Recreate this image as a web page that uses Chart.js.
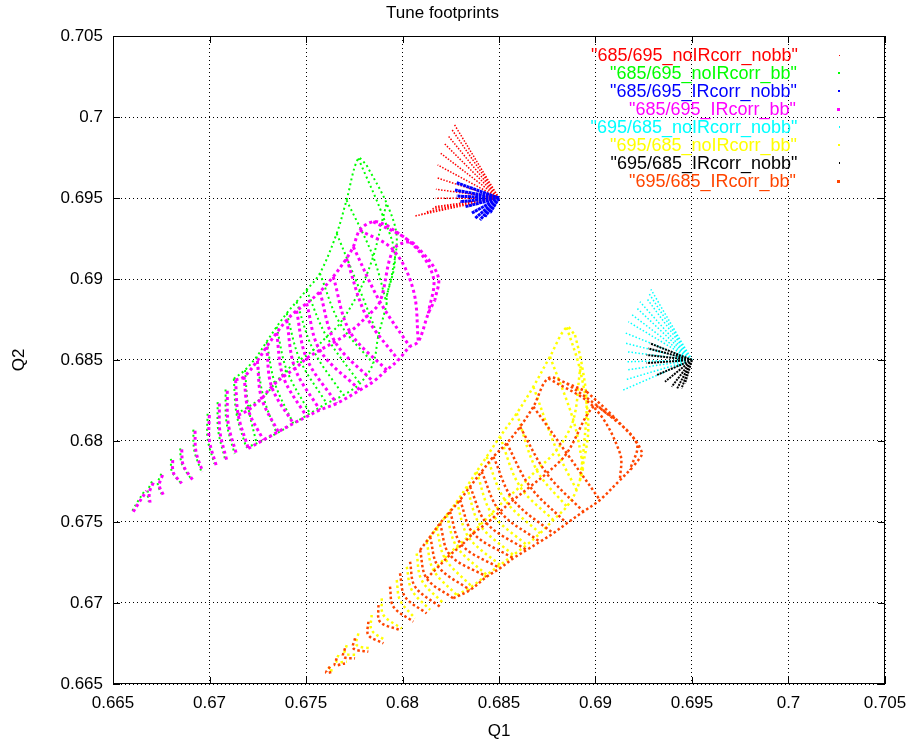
<!DOCTYPE html>
<html>
<head>
<meta charset="utf-8">
<script src="https://cdn.jsdelivr.net/npm/chart.js@4/dist/chart.umd.min.js"></script>
<style>
  body { margin: 0; background: #fff; }
  #wrap { position: relative; width: 916px; height: 744px; }
  #legend { position: absolute; right: 71px; top: 46px; font: 18px "Liberation Sans", Arial, sans-serif; }
  #legend div { display: flex; justify-content: flex-end; align-items: center; height: 18px; white-space: pre; }
  #legend i { display: inline-block; margin-left: 41px; margin-right: 5px; }
</style>
</head>
<body>
<div id="wrap">
  <canvas id="chart" width="916" height="744"></canvas>
  <div id="legend"></div>
</div>
<script>
// tick labels
const xTicks = [0.665, 0.67, 0.675, 0.68, 0.685, 0.69, 0.695, 0.7, 0.705];
const yTicks = [0.665, 0.67, 0.675, 0.68, 0.685, 0.69, 0.695, 0.7, 0.705];

const seriesNames = [
  '"685/695_noIRcorr_nobb"', '"685/695_noIRcorr_bb"', '"685/695_IRcorr_nobb"', '"685/695_IRcorr_bb"',
  '"695/685_noIRcorr_nobb"', '"695/685_noIRcorr_bb"', '"695/685_IRcorr_nobb"', '"695/685_IRcorr_bb"'
];
const seriesColors = ['#ff0000', '#00ff00', '#0000ff', '#ff00ff', '#00ffff', '#ffff00', '#000000', '#ff4500'];

// nominal working points (no beam-beam footprints start here)
const nominal685 = [0.685, 0.695];
const nominal695 = [0.695, 0.685];

// no-bb footprints: tip of each amplitude ray (Q1, Q2)
const redTips = [
  [0.68267, 0.69957], [0.68255, 0.69924], [0.68237, 0.69883], [0.68215, 0.69838],
  [0.68198, 0.69776], [0.68182, 0.69704], [0.68177, 0.69625], [0.68173, 0.69554],
  [0.68172, 0.69498], [0.68168, 0.69446], [0.68148, 0.69432], [0.68125, 0.69415],
  [0.68091, 0.69398], [0.68065, 0.69389]
];
const blueTips = [
  [0.68281, 0.69594], [0.68272, 0.69549], [0.68281, 0.69512], [0.68298, 0.69477],
  [0.68324, 0.69446], [0.68358, 0.69406], [0.68376, 0.69375], [0.68401, 0.69364],
  [0.68427, 0.69385], [0.68453, 0.69406]
];
const cyanTips = [
  [0.69287, 0.68936], [0.69279, 0.68907], [0.69265, 0.68881], [0.69230, 0.68860],
  [0.69210, 0.68825], [0.69184, 0.68784], [0.69170, 0.68736], [0.69153, 0.68668],
  [0.69158, 0.68603], [0.69162, 0.68551], [0.69158, 0.68489], [0.69162, 0.68438],
  [0.69153, 0.68377], [0.69144, 0.68315]
];
const blackTips = [
  [0.69282, 0.68603], [0.69273, 0.68572], [0.69265, 0.68531], [0.69265, 0.68481],
  [0.69317, 0.68407], [0.69360, 0.68366], [0.69395, 0.68335], [0.69421, 0.68319],
  [0.69446, 0.68325], [0.69464, 0.68356]
];

// bb footprints: constant-amplitude arcs, each a short list of (Q1, Q2)
const greenArcs = [
  [[0.66600, 0.67570], [0.66625, 0.67620], [0.66668, 0.67700]],
  [[0.66702, 0.67750], [0.66680, 0.67688], [0.66685, 0.67625]],
  [[0.66750, 0.67798], [0.66732, 0.67735], [0.66752, 0.67672]],
  [[0.66800, 0.67890], [0.66805, 0.67812], [0.66848, 0.67745]],
  [[0.66848, 0.67955], [0.66856, 0.67860], [0.66905, 0.67765]],
  [[0.66916, 0.68070], [0.66921, 0.67942], [0.66956, 0.67818]],
  [[0.66990, 0.68168], [0.66990, 0.68015], [0.67025, 0.67860]],
  [[0.67042, 0.68240], [0.67045, 0.68066], [0.67080, 0.67890]],
  [[0.67083, 0.68318], [0.67088, 0.68117], [0.67130, 0.67920]],
  [[0.67126, 0.68384], [0.67140, 0.68168], [0.67190, 0.67960]],
  [[0.67184, 0.68438], [0.67201, 0.68211], [0.67244, 0.67985]],
  [[0.67244, 0.68520], [0.67279, 0.68273], [0.67348, 0.68047]],
  [[0.67296, 0.68613], [0.67339, 0.68355], [0.67434, 0.68108]],
  [[0.67348, 0.68705], [0.67400, 0.68438], [0.67520, 0.68170]],
  [[0.67400, 0.68788], [0.67469, 0.68500], [0.67607, 0.68232]],
  [[0.67451, 0.68860], [0.67538, 0.68561], [0.67693, 0.68283]],
  [[0.67503, 0.68932], [0.67607, 0.68644], [0.67779, 0.68355]],
  [[0.67572, 0.69035], [0.67676, 0.68726], [0.67848, 0.68479]],
  [[0.67659, 0.69281], [0.67779, 0.68932], [0.67874, 0.68644]],
  [[0.67710, 0.69487], [0.67848, 0.69138], [0.67918, 0.68849]],
  [[0.67771, 0.69745], [0.67900, 0.69384], [0.67961, 0.69138], [0.67918, 0.68891]],
  [[0.67814, 0.69703], [0.67918, 0.69467], [0.67970, 0.69261], [0.67944, 0.69014]]
];
const magentaArcs = [
  [[0.66605, 0.67563], [0.66631, 0.67613], [0.66674, 0.67693]],
  [[0.66709, 0.67742], [0.66688, 0.67680], [0.66692, 0.67619]],
  [[0.66757, 0.67790], [0.66740, 0.67728], [0.66761, 0.67666]],
  [[0.66809, 0.67882], [0.66813, 0.67804], [0.66856, 0.67738]],
  [[0.66856, 0.67948], [0.66864, 0.67851], [0.66913, 0.67759]],
  [[0.66925, 0.68063], [0.66930, 0.67934], [0.66965, 0.67810]],
  [[0.66999, 0.68160], [0.66999, 0.68006], [0.67034, 0.67851]],
  [[0.67051, 0.68232], [0.67054, 0.68057], [0.67089, 0.67882]],
  [[0.67092, 0.68310], [0.67097, 0.68108], [0.67141, 0.67913]],
  [[0.67135, 0.68376], [0.67149, 0.68160], [0.67201, 0.67954]],
  [[0.67179, 0.68397], [0.67201, 0.68191], [0.67279, 0.68006]],
  [[0.67248, 0.68495], [0.67270, 0.68263], [0.67356, 0.68057]],
  [[0.67296, 0.68582], [0.67322, 0.68335], [0.67434, 0.68108]],
  [[0.67348, 0.68668], [0.67382, 0.68397], [0.67503, 0.68150]],
  [[0.67400, 0.68746], [0.67443, 0.68448], [0.67572, 0.68191]],
  [[0.67451, 0.68804], [0.67503, 0.68510], [0.67659, 0.68232]],
  [[0.67503, 0.68849], [0.67572, 0.68561], [0.67779, 0.68314]],
  [[0.67572, 0.68921], [0.67650, 0.68613], [0.67848, 0.68366]],
  [[0.67641, 0.69014], [0.67728, 0.68674], [0.67918, 0.68438]],
  [[0.67710, 0.69127], [0.67814, 0.68767], [0.67978, 0.68500]],
  [[0.67745, 0.69199], [0.67883, 0.68860], [0.68038, 0.68582]],
  [[0.67779, 0.69302], [0.67952, 0.69179], [0.68056, 0.68932], [0.68082, 0.68613]],
  [[0.67848, 0.69354], [0.68038, 0.69230], [0.68159, 0.69014], [0.68134, 0.68788]],
  [[0.67918, 0.69333], [0.68090, 0.69179], [0.68185, 0.69014], [0.68168, 0.68870]]
];
const yellowArcs = [
  [[0.67624, 0.66607], [0.67616, 0.66586], [0.67650, 0.66586]],
  [[0.67668, 0.66679], [0.67659, 0.66638], [0.67711, 0.66638]],
  [[0.67711, 0.66740], [0.67702, 0.66689], [0.67763, 0.66679]],
  [[0.67771, 0.66812], [0.67763, 0.66740], [0.67840, 0.66720]],
  [[0.67840, 0.66926], [0.67840, 0.66833], [0.67909, 0.66771]],
  [[0.67892, 0.67029], [0.67901, 0.66926], [0.67996, 0.66843]],
  [[0.67970, 0.67142], [0.67987, 0.67018], [0.68065, 0.66905]],
  [[0.68022, 0.67224], [0.68048, 0.67080], [0.68143, 0.66957]],
  [[0.68073, 0.67306], [0.68099, 0.67142], [0.68212, 0.66998]],
  [[0.68125, 0.67378], [0.68160, 0.67204], [0.68281, 0.67049]],
  [[0.68177, 0.67461], [0.68220, 0.67276], [0.68359, 0.67101]],
  [[0.68229, 0.67543], [0.68281, 0.67348], [0.68436, 0.67173]],
  [[0.68281, 0.67625], [0.68341, 0.67409], [0.68505, 0.67234]],
  [[0.68333, 0.67718], [0.68402, 0.67481], [0.68574, 0.67296]],
  [[0.68384, 0.67811], [0.68462, 0.67553], [0.68643, 0.67358]],
  [[0.68436, 0.67903], [0.68531, 0.67636], [0.68712, 0.67430]],
  [[0.68505, 0.68027], [0.68609, 0.67718], [0.68781, 0.67512]],
  [[0.68592, 0.68171], [0.68695, 0.67821], [0.68851, 0.67595]],
  [[0.68678, 0.68335], [0.68799, 0.67944], [0.68902, 0.67697]],
  [[0.68764, 0.68521], [0.68885, 0.68130], [0.68937, 0.67841]],
  [[0.68851, 0.68702], [0.68920, 0.68438], [0.68963, 0.68088], [0.68920, 0.67759]],
  [[0.68894, 0.68654], [0.68928, 0.68479], [0.68954, 0.68233], [0.68937, 0.67924]]
];
const orangeArcs = [
  [[0.67624, 0.66607], [0.67604, 0.66570], [0.67642, 0.66576]],
  [[0.67659, 0.66658], [0.67650, 0.66617], [0.67702, 0.66627]],
  [[0.67702, 0.66720], [0.67693, 0.66668], [0.67754, 0.66658]],
  [[0.67754, 0.66782], [0.67745, 0.66720], [0.67823, 0.66699]],
  [[0.67823, 0.66885], [0.67823, 0.66802], [0.67901, 0.66751]],
  [[0.67875, 0.66987], [0.67883, 0.66885], [0.67987, 0.66833]],
  [[0.67935, 0.67101], [0.67953, 0.66977], [0.68056, 0.66885]],
  [[0.67987, 0.67183], [0.68013, 0.67039], [0.68125, 0.66936]],
  [[0.68039, 0.67255], [0.68065, 0.67101], [0.68194, 0.66977]],
  [[0.68091, 0.67327], [0.68125, 0.67152], [0.68263, 0.67029]],
  [[0.68143, 0.67409], [0.68186, 0.67224], [0.68350, 0.67080]],
  [[0.68194, 0.67492], [0.68246, 0.67296], [0.68436, 0.67162]],
  [[0.68246, 0.67564], [0.68307, 0.67358], [0.68505, 0.67214]],
  [[0.68298, 0.67636], [0.68367, 0.67430], [0.68574, 0.67276]],
  [[0.68350, 0.67718], [0.68436, 0.67492], [0.68643, 0.67327]],
  [[0.68410, 0.67811], [0.68505, 0.67564], [0.68712, 0.67378]],
  [[0.68471, 0.67903], [0.68574, 0.67636], [0.68781, 0.67430]],
  [[0.68540, 0.67986], [0.68661, 0.67718], [0.68851, 0.67492]],
  [[0.68609, 0.68088], [0.68747, 0.67800], [0.68937, 0.67564]],
  [[0.68678, 0.68212], [0.68851, 0.67924], [0.69023, 0.67636]],
  [[0.68756, 0.68387], [0.68989, 0.68212], [0.69127, 0.67924], [0.69127, 0.67759]],
  [[0.68851, 0.68356], [0.69058, 0.68171], [0.69213, 0.67986], [0.69179, 0.67821]],
  [[0.68954, 0.68305], [0.69110, 0.68130], [0.69239, 0.67934], [0.69196, 0.67841]]
];
// the dot lattice only shows between arcs from this arc outwards
const latticeFrom = 9;

const gap = { x: null, y: null };
function rays(apex, tips) {
  const pts = [];
  tips.forEach(t => pts.push({ x: apex[0], y: apex[1] }, { x: t[0], y: t[1] }, gap));
  return pts;
}
// arcs, plus the lines joining the same vertex of successive outer arcs (grid look)
function arcs(list) {
  const pts = [];
  list.forEach(a => { a.forEach(p => pts.push({ x: p[0], y: p[1] })); pts.push(gap); });
  const outer = list.slice(latticeFrom);
  [0, 1, 2].forEach(k => {
    outer.forEach(a => { const p = k === 2 ? a[a.length - 1] : a[k]; pts.push({ x: p[0], y: p[1] }); });
    pts.push(gap);
  });
  return pts;
}

const seriesData = [
  rays(nominal685, redTips), arcs(greenArcs), rays(nominal685, blueTips), arcs(magentaArcs),
  rays(nominal695, cyanTips), arcs(yellowArcs), rays(nominal695, blackTips), arcs(orangeArcs)
];
const widths = [1.5, 2, 3, 3, 1.5, 2.5, 2, 2.5];
const dashes = [[1.5, 1.5], [2, 3], [3, 0.5], [3, 3], [1.5, 2], [2.5, 3], [2, 1], [2.5, 2.5]];
const curved = [0, 0.35, 0, 0.35, 0, 0.35, 0, 0.35];

const datasets = seriesNames.map((name, i) => ({
  label: name,
  data: seriesData[i],
  showLine: true,
  spanGaps: false,
  tension: curved[i],
  borderColor: seriesColors[i],
  borderWidth: widths[i],
  borderDash: dashes[i],
  pointRadius: 0,
  order: seriesNames.length - i   // later series drawn on top, like gnuplot
}));

// legend in gnuplot style (right aligned, coloured text, sample dot)
const dotSize = [1, 2, 2, 3, 1.5, 2, 1.5, 3];
document.getElementById('legend').innerHTML = seriesNames.map((n, i) =>
  `<div style="color:${seriesColors[i]}"><span>${n}</span><i style="width:${dotSize[i]}px;height:${dotSize[i]}px;background:${seriesColors[i]}"></i></div>`
).join('');

const framePlugin = {
  id: 'frame',
  afterDatasetsDraw(chart) {
    const { ctx, chartArea: a, scales: { x, y } } = chart;
    ctx.save();
    ctx.strokeStyle = '#000';
    ctx.lineWidth = 1;
    ctx.strokeRect(a.left + 0.5, a.top + 0.5, a.width - 1, a.height - 1);
    ctx.beginPath();
    xTicks.forEach(v => {
      const px = Math.round(x.getPixelForValue(v)) + 0.5;
      ctx.moveTo(px, a.bottom); ctx.lineTo(px, a.bottom - 7);
      ctx.moveTo(px, a.top); ctx.lineTo(px, a.top + 7);
    });
    yTicks.forEach(v => {
      const py = Math.round(y.getPixelForValue(v)) + 0.5;
      ctx.moveTo(a.left, py); ctx.lineTo(a.left + 7, py);
      ctx.moveTo(a.right, py); ctx.lineTo(a.right - 7, py);
    });
    ctx.stroke();
    ctx.restore();
  }
};

Chart.defaults.font.family = '"Liberation Sans", Arial, sans-serif';
Chart.defaults.font.size = 17;
Chart.defaults.color = '#000';

const fmt = v => String(Number(v.toFixed(3)));

new Chart(document.getElementById('chart'), {
  type: 'scatter',
  data: { datasets },
  options: {
    responsive: false,
    animation: false,
    layout: { padding: { left: 0, right: 31, top: 0, bottom: 0 } },
    plugins: {
      legend: { display: false },
      tooltip: { enabled: false },
      title: {
        display: true,
        text: 'Tune footprints',
        font: { size: 17, weight: 'normal' },
        color: '#000',
        padding: { top: 3, bottom: 12.6 }
      }
    },
    scales: {
      x: {
        type: 'linear', min: 0.665, max: 0.705,
        afterBuildTicks: s => { s.ticks = xTicks.map(v => ({ value: v })); },
        afterFit: s => { s.height = 60; },
        ticks: { callback: fmt, padding: 9, maxRotation: 0 },
        grid: { color: '#000', lineWidth: 1, drawTicks: false },
        border: { display: false, dash: [1, 3] },
        title: { display: true, text: 'Q1', font: { size: 17 }, padding: { top: 0, bottom: 2 } }
      },
      y: {
        type: 'linear', min: 0.665, max: 0.705,
        afterBuildTicks: s => { s.ticks = yTicks.map(v => ({ value: v })); },
        afterFit: s => { s.width = 113; },
        ticks: { callback: fmt, padding: 10 },
        grid: { color: '#000', lineWidth: 1, drawTicks: false },
        border: { display: false, dash: [1, 3] },
        title: { display: true, text: 'Q2', font: { size: 17 }, padding: { top: 9, bottom: 0 } }
      }
    }
  },
  plugins: [framePlugin]
});
</script>
</body>
</html>
